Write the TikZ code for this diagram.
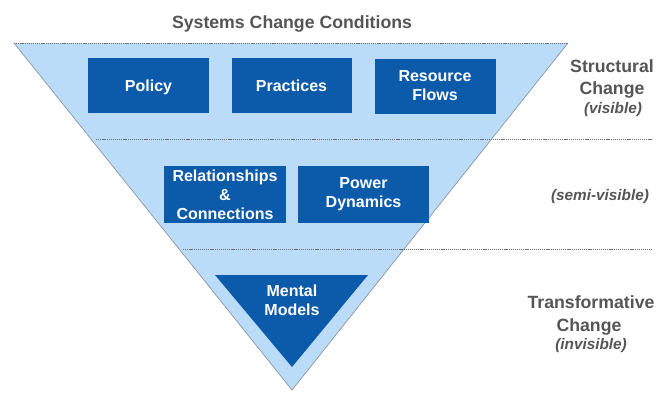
\documentclass[tikz,border=0pt]{standalone}
\usepackage{fontspec}
\setmainfont{Liberation Sans}
\definecolor{lightblue}{RGB}{186,220,249}
\definecolor{boxblue}{RGB}{12,90,170}
\definecolor{labelgray}{RGB}{85,85,85}
\definecolor{edgegray}{RGB}{140,150,160}
\definecolor{sepgray}{RGB}{110,110,110}
\begin{document}
\begin{tikzpicture}[x=1pt,y=-1pt,
  condbox/.style={fill=boxblue, inner sep=0pt, text=white,
    font=\bfseries\fontsize{16}{19}\selectfont, align=center},
  boxtext/.style={text=white, inner sep=0pt, font=\bfseries\fontsize{16}{19}\selectfont, align=center},
  lvl/.style={text=labelgray, inner sep=0pt, font=\bfseries\fontsize{17.7}{22}\selectfont,
    text height=12.7pt, text depth=0pt},
  lvlsub/.style={text=labelgray, inner sep=0pt, font=\bfseries\itshape\fontsize{15.3}{18}\selectfont,
    text height=11pt, text depth=0pt},
  sepline/.style={draw=sepgray, line width=0.7pt, dash pattern=on 1.2pt off 0.9pt},
  edgeline/.style={draw=edgegray, line width=0.7pt}]
\useasboundingbox (0,0) rectangle (660,392);
% outer triangle
\coordinate (tl) at (14,43);
\coordinate (tr) at (568,43);
\coordinate (apex) at (292,390);
\fill[lightblue] (tl) -- (tr) -- (apex) -- cycle;
\draw[edgeline] (tl) -- (apex) -- (tr);
\draw[sepline] (tl) -- (tr);
% separators
\coordinate (s1a) at (96,139);
\coordinate (s1b) at (652,139);
\coordinate (s2a) at (183,249);
\coordinate (s2b) at (652,249);
\draw[sepline] (s1a) -- (s1b);
\draw[sepline] (s2a) -- (s2b);
% title
\node[lvl] (title) at (292,22) {Systems Change Conditions};
% structural boxes
\node[condbox, minimum width=121pt, minimum height=55pt, text height=11.5pt, text depth=0pt] (policy) at (148.5,85.5) {Policy};
\node[condbox, minimum width=120pt, minimum height=55pt, text height=11.5pt, text depth=0pt] (practices) at (291.5,85.5) {Practices};
\node[condbox, minimum width=121pt, minimum height=55pt] (resource) at (435,86) {Resource\\Flows};
% semi-visible boxes
\node[condbox, minimum width=122pt, minimum height=57pt] (relations) at (225,194.5) {Relationships\\\&\\Connections};
\node[condbox, minimum width=131pt, minimum height=57pt] (power) at (363.5,194.5) {Power\\Dynamics};
% mental models triangle
\coordinate (mtl) at (215,275);
\coordinate (mtr) at (368,275);
\coordinate (mapex) at (292,367);
\fill[boxblue] (mtl) -- (mtr) -- (mapex) -- cycle;
\node[boxtext] (mental) at (292,300) {Mental\\Models};
% right labels
\node[lvl] (structural) at (612,66) {Structural};
\node[lvl] (change1) at (612,88) {Change};
\node[lvlsub] (visible) at (613,108) {(visible)};
\node[lvlsub] (semivisible) at (600,195) {(semi-visible)};
\node[lvl] (transformative) at (591,302) {Transformative};
\node[lvl] (change2) at (589,325) {Change};
\node[lvlsub] (invisible) at (591,344) {(invisible)};
\end{tikzpicture}
\end{document}
